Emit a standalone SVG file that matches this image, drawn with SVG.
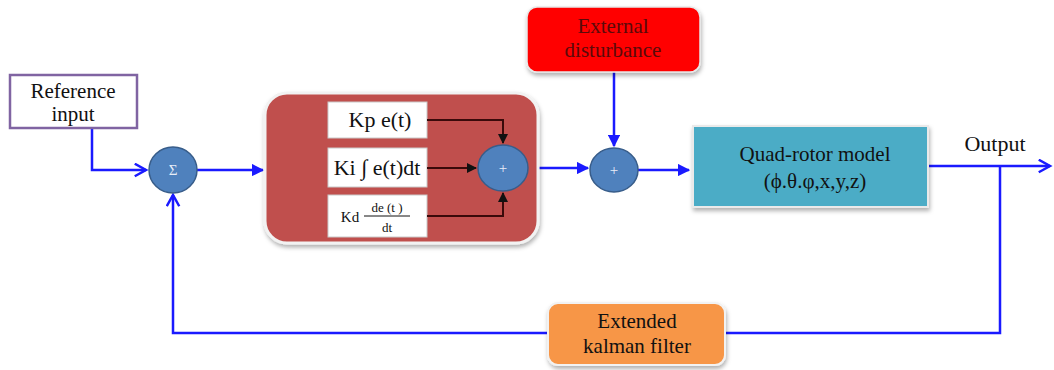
<svg xmlns="http://www.w3.org/2000/svg" width="1054" height="370" viewBox="0 0 1054 370" font-family="'Liberation Serif', 'DejaVu Serif', serif">
<style>
text{font-family:"Liberation Serif","DejaVu Serif",serif;}
.lbl{font-size:21px;fill:#111;text-anchor:middle;}
.blue{stroke:#1a1aff;stroke-width:2.5;fill:none;}
.dark{stroke:#3a0a0a;stroke-width:2;fill:none;}
.circ{fill:#4f81bd;stroke:#385d8a;stroke-width:1.5;}
.sym{font-size:15px;fill:#e8eef8;text-anchor:middle;}
.wbox{fill:#fff;stroke:#c9c9c9;stroke-width:1;}
</style>
<defs>
<marker id="ah" viewBox="0 0 10 10" refX="9" refY="5" markerWidth="5" markerHeight="5" orient="auto">
<path d="M0,0 L10,5 L0,10 z" fill="#1a1aff"/>
</marker>
<marker id="ao" viewBox="0 0 12 12" refX="10" refY="6" markerWidth="6" markerHeight="6" orient="auto">
<path d="M1,1 L10,6 L1,11" fill="none" stroke="#1a1aff" stroke-width="2"/>
</marker>
<marker id="ad" viewBox="0 0 10 10" refX="9" refY="5" markerWidth="5" markerHeight="5" orient="auto">
<path d="M0,0 L10,5 L0,10 z" fill="#111"/>
</marker>
<filter id="sh" x="-10%" y="-10%" width="120%" height="130%">
<feDropShadow dx="1" dy="3" stdDeviation="2" flood-color="#000" flood-opacity="0.3"/>
</filter>
</defs>

<g id="connectors">
<path class="blue" d="M92,128 V170 H146" marker-end="url(#ao)"/>
<path class="blue" d="M197,170 H263" marker-end="url(#ah)"/>
<path class="blue" d="M528,168 H588" marker-end="url(#ah)"/>
<path class="blue" d="M614,72 V146" marker-end="url(#ah)"/>
<path class="blue" d="M638,170 H689" marker-end="url(#ah)"/>
<path class="blue" d="M928,166 H1050" marker-end="url(#ao)"/>
<path class="blue" d="M1000,166 V333 H725"/>
<path class="blue" d="M548,333 H173 V195" marker-end="url(#ao)"/>
</g>

<g id="reference-input">
<rect x="10" y="75" width="127" height="53" fill="#fff" stroke="#8064a2" stroke-width="2.5"/>
<text class="lbl" x="73" y="98">Reference</text>
<text class="lbl" x="73" y="121">input</text>
</g>

<g id="sum-sigma">
<ellipse class="circ" cx="173" cy="170" rx="24" ry="23"/>
<text class="sym" x="173" y="175">Σ</text>
</g>

<g id="pid-controller">
<rect x="265" y="93" width="273" height="150" rx="22" fill="#c0504d" stroke="#f2f2f2" stroke-width="3" filter="url(#sh)"/>
<g id="kp">
<rect class="wbox" x="328" y="102" width="99" height="36"/>
<text x="380" y="127" style="font-size:22px;text-anchor:middle;fill:#111">Kp e(t)</text>
</g>
<g id="ki">
<rect class="wbox" x="328" y="148" width="99" height="39"/>
<text x="377" y="175" style="font-size:22px;text-anchor:middle;fill:#111">Ki ∫ e(t)dt</text>
</g>
<g id="kd">
<rect class="wbox" x="328" y="195" width="99" height="42"/>
<text x="350" y="222" style="font-size:15px;text-anchor:middle;fill:#111">Kd</text>
<text x="387" y="212" style="font-size:13px;text-anchor:middle;fill:#111">de (t )</text>
<line x1="364" y1="216" x2="410" y2="216" stroke="#111" stroke-width="1"/>
<text x="387" y="232" style="font-size:13px;text-anchor:middle;fill:#111">dt</text>
</g>
<path class="dark" d="M427,120 H503 V143" marker-end="url(#ad)"/>
<path class="dark" d="M427,168 H476" marker-end="url(#ad)"/>
<path class="dark" d="M427,216 H503 V193" marker-end="url(#ad)"/>
<g id="sum-pid">
<ellipse class="circ" cx="503" cy="168" rx="25" ry="23"/>
<text class="sym" x="503" y="173">+</text>
</g>
</g>

<g id="external-disturbance">
<rect x="527" y="7" width="173" height="65" rx="10" fill="#ff0000" stroke="#e8e8e8" stroke-width="1.5" filter="url(#sh)"/>
<text class="lbl" x="613" y="33" style="fill:#5a0a0a">External</text>
<text class="lbl" x="613" y="57" style="fill:#5a0a0a">disturbance</text>
</g>

<g id="sum-disturbance">
<ellipse class="circ" cx="614" cy="170" rx="24" ry="22"/>
<text class="sym" x="614" y="175">+</text>
</g>

<g id="quad-rotor">
<rect x="693" y="126" width="235" height="81" fill="#4bacc6" stroke="#eaeaea" stroke-width="2" filter="url(#sh)"/>
<text class="lbl" x="815" y="161">Quad-rotor model</text>
<text class="lbl" x="815" y="188">(ϕ.θ.φ,x,y,z)</text>
</g>

<g id="output">
<text class="lbl" x="995" y="151" style="font-size:22px">Output</text>
</g>

<g id="kalman-filter">
<rect x="548" y="303" width="177" height="62" rx="10" fill="#f79646" stroke="#f2f2f2" stroke-width="2" filter="url(#sh)"/>
<text class="lbl" x="637" y="328">Extended</text>
<text class="lbl" x="637" y="353">kalman filter</text>
</g>
</svg>
